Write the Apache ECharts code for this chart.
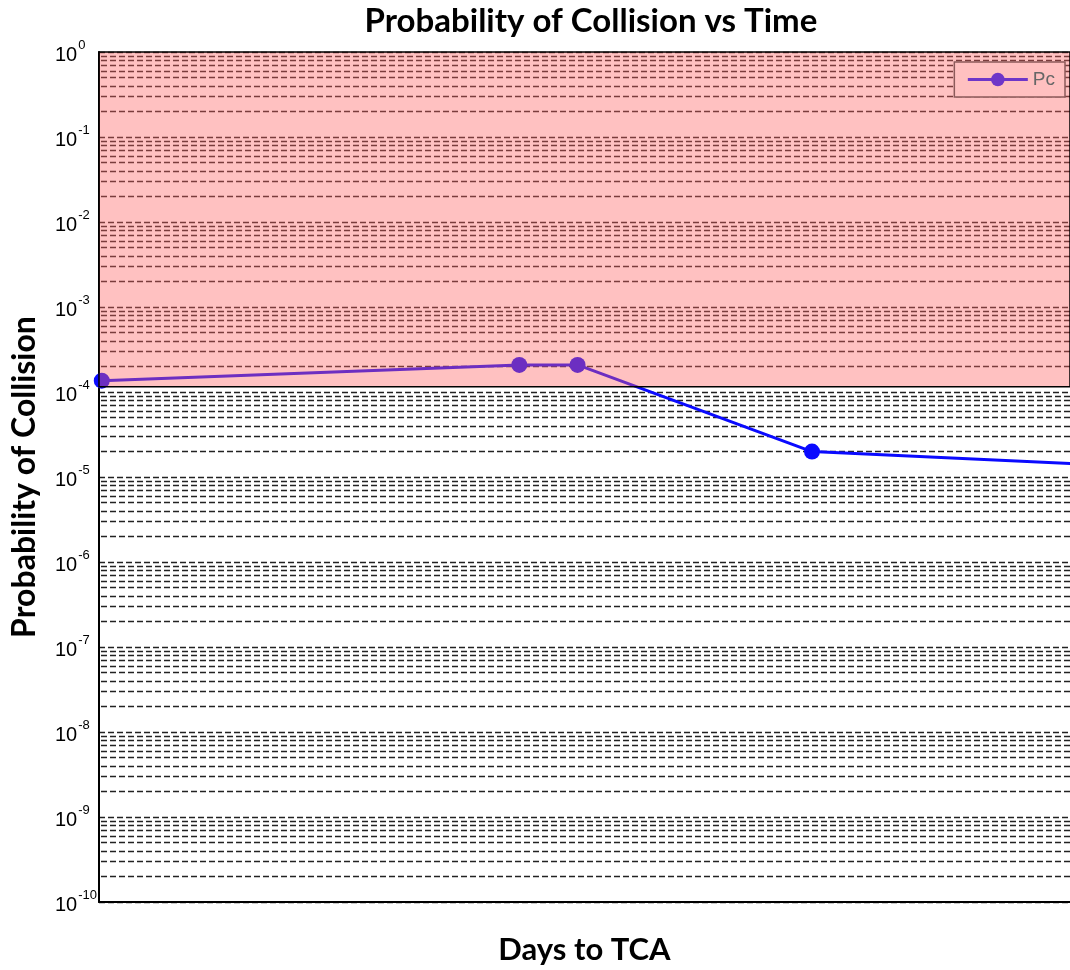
<!DOCTYPE html>
<html>
<head>
<meta charset="utf-8">
<title>Probability of Collision vs Time</title>
<script src="https://cdn.jsdelivr.net/npm/echarts@6/dist/echarts.min.js"></script>
<style>
  html, body { margin: 0; padding: 0; background: #fff; }
  #chart { width: 1070px; height: 970px; }
</style>
</head>
<body>
<div id="chart"></div>
<script>
  // data
  var daysToTca = [7.38, 4.37, 3.95, 2.26, 0.0];
  var pcValues = [1.36e-4, 2.08e-4, 2.08e-4, 1.99e-5, 1.35e-5];
  // red zone: Pc above the threshold
  var redZone = [1.15e-4, 1];
  // decade exponents and the 2..9 sub lines of each decade
  var decadeExps = [0, -1, -2, -3, -4, -5, -6, -7, -8, -9, -10];
  var subSteps = [2, 3, 4, 5, 6, 7, 8, 9];
  var xMin = 0.4, xMax = 7.4;

  var minorLines = [];
  decadeExps.slice(0, -1).forEach(function (e) {
    subSteps.forEach(function (s) {
      var v = s * Math.pow(10, e - 1);
      minorLines.push({ coords: [[xMin, v], [xMax, v]] });
    });
  });

  var gridColor = '#222';
  var dash = [6, 3];
  var chart = echarts.init(document.getElementById('chart'));

  chart.setOption({
    animation: false,
    title: {
      text: 'Probability of Collision vs Time',
      left: 586,
      textAlign: 'center',
      top: 0,
      textStyle: { fontFamily: 'Lato', fontWeight: 'bold', fontSize: 33, color: '#000' }
    },
    legend: {
      right: 5,
      top: 62,
      z: 20,
      itemWidth: 60,
      itemHeight: 17,
      itemGap: 6,
      padding: [8, 10, 8, 12],
      backgroundColor: '#ffc0c0',
      borderColor: '#8c5a5a',
      borderWidth: 1.5,
      borderRadius: 0,
      textStyle: { fontFamily: 'Liberation Sans', fontSize: 19, color: '#666' },
      data: [{
        name: 'Pc',
        itemStyle: { color: '#6e36c8' },
        lineStyle: { color: '#6e36c8', width: 3 }
      }]
    },
    grid: { left: 99, top: 52, right: 0, bottom: 68, outerBoundsMode: 'none', containLabel: false },
    xAxis: {
      type: 'value',
      inverse: true,
      min: xMin,
      max: xMax,
      name: 'Days to TCA',
      nameLocation: 'middle',
      nameGap: 32,
      nameTextStyle: { fontFamily: 'Lato', fontWeight: 'bold', fontSize: 31, color: '#000' },
      axisLine: { onZero: false, lineStyle: { color: '#000', width: 2 } },
      axisTick: { show: false },
      axisLabel: { show: false },
      splitLine: { show: false }
    },
    yAxis: {
      type: 'log',
      logBase: 10,
      min: 1e-10,
      max: 1,
      interval: 1,
      name: 'Probability of Collision',
      nameLocation: 'middle',
      nameGap: 58,
      nameTextStyle: { fontFamily: 'Lato', fontWeight: 'bold', fontSize: 32, color: '#000' },
      axisLine: { show: true, lineStyle: { color: '#000', width: 2 } },
      axisTick: { show: false },
      splitLine: { show: true, lineStyle: { color: gridColor, type: dash, width: 1.3 } },
      axisLabel: {
        margin: 44,
        align: 'left',
        formatter: function (v) {
          var e = Math.round(Math.log10(v));
          return '{b|10}{s|' + e + '}';
        },
        rich: {
          b: { fontFamily: 'Liberation Sans', fontSize: 20, color: '#000', verticalAlign: 'bottom', padding: [7, 0, 0, 0] },
          s: { fontFamily: 'Liberation Sans', fontSize: 13, color: '#000', verticalAlign: 'top', padding: [0, 0, 12, 1] }
        }
      }
    },
    series: [
      {
        // 2..9 sub grid lines of each decade
        name: 'minor',
        type: 'lines',
        coordinateSystem: 'cartesian2d',
        z: 1,
        silent: true,
        lineStyle: { color: gridColor, type: dash, width: 1.3, opacity: 1 },
        data: minorLines
      },
      {
        name: 'Pc',
        type: 'line',
        z: 6,
        data: daysToTca.map(function (d, i) { return [d, pcValues[i]]; }),
        symbol: 'circle',
        symbolSize: 16,
        itemStyle: { color: '#0a0aff' },
        lineStyle: { color: '#0a0aff', width: 3 }
      },
      {
        // translucent red zone drawn over everything in the plot
        name: 'zone',
        type: 'line',
        data: [],
        z: 10,
        silent: true,
        markArea: {
          silent: true,
          z: 10,
          itemStyle: {
            color: 'rgba(255, 100, 100, 0.4)',
            borderColor: '#000',
            borderWidth: 1.5
          },
          data: [[{ yAxis: redZone[0] }, { yAxis: redZone[1] }]]
        }
      }
    ]
  });
</script>
</body>
</html>
